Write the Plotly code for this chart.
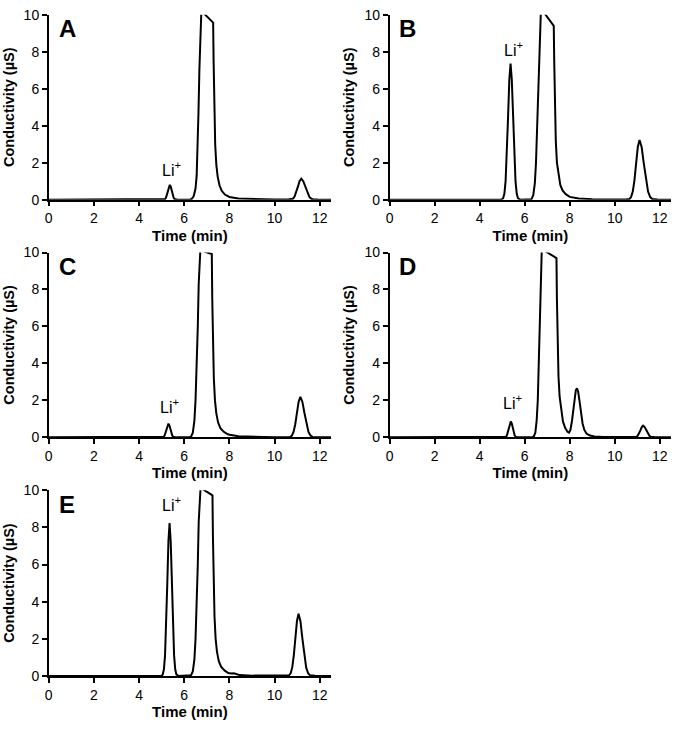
import plotly.graph_objects as go

# ---- data (time in min, conductivity in µS) ----
t_A = [0, 5.1, 5.105, 5.15, 5.19, 5.23, 5.275, 5.317, 5.36, 5.403, 5.445, 5.49, 5.53, 5.57, 5.615, 5.7,
       6.25, 6.33, 6.42, 6.5, 6.55, 6.59, 6.63, 6.67, 6.71, 6.76, 6.85, 7.28, 7.30, 7.33, 7.37, 7.42, 7.48,
       7.56, 7.66, 7.8, 8.0, 8.4, 9.0, 10.0, 10.6,
       10.73, 10.805, 10.88, 10.955, 11.03, 11.105, 11.18, 11.27, 11.36, 11.45, 11.54, 11.63, 11.72, 11.9, 12.2, 12.5]
s_A = [0, 0, 0.009, 0.035, 0.108, 0.26, 0.486, 0.706, 0.8, 0.706, 0.486, 0.26, 0.108, 0.035, 0.009, 0,
       0, 0.04, 0.2, 0.6, 1.3, 2.6, 4.7, 7.0, 9.3, 10.3, 10.1, 9.58, 7.5, 4.8, 3.0, 1.9, 1.25,
       0.78, 0.48, 0.28, 0.15, 0.06, 0.03, 0.01, 0.01,
       0.0125, 0.05, 0.154, 0.37, 0.69, 1.0, 1.14, 1.0, 0.69, 0.37, 0.154, 0.05, 0.0125, 0.005, 0.002, 0]

t_B = [0, 4.95, 5.04, 5.095, 5.15, 5.205, 5.26, 5.315, 5.37, 5.425, 5.48, 5.535, 5.59, 5.645, 5.70, 5.8,
       6.2, 6.3, 6.38, 6.45, 6.5, 6.55, 6.6, 6.65, 6.7, 6.72, 6.87, 7.29, 7.31, 7.34, 7.38, 7.43, 7.5,
       7.58, 7.68, 7.82, 8.0, 8.4, 9.0, 10.0, 10.5,
       10.65, 10.725, 10.8, 10.875, 10.95, 11.025, 11.1, 11.195, 11.29, 11.385, 11.48, 11.575, 11.67, 11.9, 12.2, 12.5]
s_B = [0, 0, 0.08, 0.32, 1.0, 2.39, 4.47, 6.5, 7.37, 6.5, 4.47, 2.39, 1.0, 0.32, 0.08, 0,
       0, 0.03, 0.25, 0.9, 2.0, 3.8, 6.0, 8.3, 9.9, 10.3, 10.1, 9.4, 7.5, 5.0, 3.2, 2.0, 1.3,
       0.8, 0.5, 0.3, 0.15, 0.06, 0.03, 0.01, 0.01,
       0.04, 0.14, 0.44, 1.05, 1.96, 2.85, 3.23, 2.85, 1.96, 1.05, 0.44, 0.14, 0.04, 0.01, 0.003, 0]

t_C = [0, 5.04, 5.045, 5.09, 5.13, 5.17, 5.215, 5.257, 5.30, 5.343, 5.385, 5.43, 5.47, 5.51, 5.555, 5.65,
       6.2, 6.3, 6.38, 6.45, 6.5, 6.55, 6.6, 6.64, 6.69, 6.72, 6.9, 7.22, 7.24, 7.27, 7.31, 7.36, 7.42,
       7.5, 7.6, 7.75, 7.95, 8.4, 9.0, 10.0, 10.55,
       10.69, 10.765, 10.84, 10.915, 10.99, 11.065, 11.14, 11.23, 11.32, 11.41, 11.5, 11.59, 11.68, 11.9, 12.2, 12.5]
s_C = [0, 0, 0.008, 0.032, 0.1, 0.24, 0.45, 0.65, 0.74, 0.65, 0.45, 0.24, 0.1, 0.032, 0.008, 0,
       0, 0.04, 0.25, 0.9, 2.0, 3.8, 6.0, 8.3, 9.9, 10.3, 10.05, 9.92, 7.5, 5.0, 3.2, 2.0, 1.3,
       0.8, 0.5, 0.3, 0.15, 0.06, 0.03, 0.01, 0.01,
       0.024, 0.096, 0.296, 0.71, 1.33, 1.93, 2.19, 1.93, 1.33, 0.71, 0.296, 0.096, 0.024, 0.006, 0.002, 0]

t_D = [0, 5.12, 5.125, 5.17, 5.21, 5.25, 5.295, 5.337, 5.38, 5.423, 5.465, 5.51, 5.55, 5.59, 5.635, 5.72,
       6.3, 6.4, 6.47, 6.53, 6.58, 6.62, 6.66, 6.7, 6.74, 6.76, 6.9, 7.41, 7.43, 7.46, 7.5, 7.55, 7.62,
       7.7, 7.8, 7.9, 7.97, 8.03, 8.1, 8.16, 8.22, 8.27, 8.32, 8.37, 8.43, 8.5, 8.57, 8.65, 8.75, 8.9,
       9.1, 9.5, 10.5, 10.8,
       10.9, 10.96, 11.02, 11.08, 11.14, 11.2, 11.26, 11.33, 11.4, 11.47, 11.54, 11.61, 11.68, 11.8, 12.5]
s_D = [0, 0, 0.0095, 0.038, 0.116, 0.28, 0.52, 0.76, 0.86, 0.76, 0.52, 0.28, 0.116, 0.038, 0.0095, 0,
       0, 0.04, 0.25, 0.9, 2.0, 3.8, 6.0, 8.3, 9.9, 10.3, 10.08, 9.7, 7.5, 5.0, 3.3, 2.2, 1.4,
       0.85, 0.5, 0.3, 0.26, 0.4, 0.9, 1.6, 2.2, 2.55, 2.65, 2.5, 2.0, 1.3, 0.75, 0.4, 0.2, 0.1,
       0.05, 0.02, 0.01, 0.01,
       0.007, 0.028, 0.085, 0.205, 0.38, 0.556, 0.63, 0.556, 0.38, 0.205, 0.085, 0.028, 0.007, 0.002, 0]

t_E = [0, 5.0, 5.05, 5.1, 5.15, 5.2, 5.25, 5.3, 5.35, 5.4, 5.45, 5.5, 5.55, 5.6, 5.65, 5.75,
       6.2, 6.3, 6.38, 6.45, 6.5, 6.55, 6.6, 6.64, 6.69, 6.73, 6.8, 7.25, 7.27, 7.3, 7.34, 7.39, 7.45,
       7.53, 7.63, 7.78, 7.95, 8.1, 8.2, 8.3, 8.45, 9.0, 10.0, 10.5,
       10.64, 10.71, 10.78, 10.85, 10.92, 10.99, 11.06, 11.145, 11.23, 11.315, 11.4, 11.485, 11.57, 11.8, 12.1, 12.5]
s_E = [0, 0, 0.09, 0.36, 1.11, 2.67, 5.0, 7.26, 8.23, 7.26, 5.0, 2.67, 1.11, 0.36, 0.09, 0,
       0, 0.04, 0.25, 0.9, 2.0, 3.8, 6.0, 8.3, 9.9, 10.3, 10.07, 9.72, 7.5, 5.0, 3.2, 2.0, 1.3,
       0.8, 0.5, 0.3, 0.16, 0.13, 0.15, 0.11, 0.05, 0.02, 0.01, 0.01,
       0.037, 0.147, 0.45, 1.09, 2.03, 2.95, 3.35, 2.95, 2.03, 1.09, 0.45, 0.147, 0.037, 0.008, 0.002, 0]

panel_labels = ["A", "B", "C", "D", "E"]
li_label_x = [5.45, 5.5, 5.35, 5.45, 5.42]
li_label_y = [1.64, 8.16, 1.71, 1.89, 9.28]
x_ticks = [0, 2, 4, 6, 8, 10, 12]
y_ticks = [0, 2, 4, 6, 8, 10]

series = [(t_A, s_A), (t_B, s_B), (t_C, s_C), (t_D, s_D), (t_E, s_E)]

W, H = 674, 729
left_dom = [45 / W, 329 / W]
right_dom = [388 / W, 671 / W]
rows = [(7, 196), (250, 439), (493, 683)]
row_dom = [[1 - b / H, 1 - t / H] for t, b in rows]
doms = [(left_dom, row_dom[0]), (right_dom, row_dom[0]),
        (left_dom, row_dom[1]), (right_dom, row_dom[1]),
        (left_dom, row_dom[2])]

FONT = "Arial, Liberation Sans, sans-serif"
fig = go.Figure()
layout = dict(width=W, height=H, margin=dict(l=0, r=0, t=0, b=0),
              paper_bgcolor="white", plot_bgcolor="white", showlegend=False,
              font=dict(family=FONT, color="black"))
annotations = []
for i, ((tx, sy), (xd, yd)) in enumerate(zip(series, doms)):
    n = "" if i == 0 else str(i + 1)
    fig.add_trace(go.Scatter(x=tx, y=sy, mode="lines", line=dict(color="black", width=2),
                             xaxis="x" + n, yaxis="y" + n, hoverinfo="skip"))
    layout["xaxis" + n] = dict(domain=xd, anchor="y" + n, range=[0, 12.5], tickvals=x_ticks,
                               ticks="outside", ticklen=5, tickwidth=1.5, tickcolor="black",
                               showline=True, linewidth=1.5, linecolor="black",
                               showgrid=False, zeroline=False,
                               tickfont=dict(size=14, family=FONT),
                               title=dict(text="<b>Time (min)</b>", font=dict(size=15, family=FONT), standoff=5))
    layout["yaxis" + n] = dict(domain=yd, anchor="x" + n, range=[0, 10], tickvals=y_ticks,
                               ticks="outside", ticklen=5, tickwidth=1.5, tickcolor="black",
                               showline=True, linewidth=1.5, linecolor="black",
                               showgrid=False, zeroline=False,
                               tickfont=dict(size=14, family=FONT),
                               title=dict(text="<b>Conductivity (µS)</b>", font=dict(size=14.5, family=FONT), standoff=6))
    annotations.append(dict(x=0.81, y=9.25, xref="x" + n, yref="y" + n, text="<b>%s</b>" % panel_labels[i],
                            showarrow=False, font=dict(size=24, family=FONT)))
    annotations.append(dict(x=li_label_x[i], y=li_label_y[i], xref="x" + n, yref="y" + n,
                            text="Li<sup>+</sup>", showarrow=False, font=dict(size=16, family=FONT)))
layout["annotations"] = annotations
fig.update_layout(**layout)
fig.write_html("out.html", config={"displayModeBar": False},
               post_script="document.body.style.margin='0px';document.body.style.padding='0px';")
